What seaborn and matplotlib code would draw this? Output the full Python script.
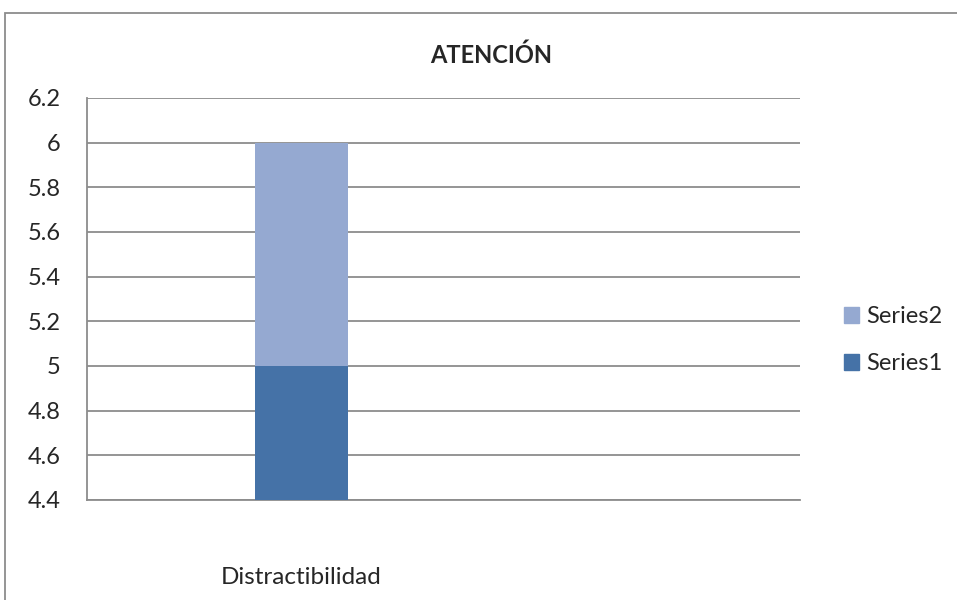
import matplotlib
matplotlib.use("Agg")
import matplotlib.pyplot as plt
import matplotlib.patches as mpatches
import seaborn as sns
import pandas as pd

# data
categories = ["Distractibilidad"]
series1 = [5]
series2 = [1]
ticks = [4.4, 4.6, 4.8, 5.0, 5.2, 5.4, 5.6, 5.8, 6.0, 6.2]
tick_labels = ["4.4", "4.6", "4.8", "5", "5.2", "5.4", "5.6", "5.8", "6", "6.2"]

c1 = "#4572A7"
c2 = "#95A9D1"
grid_c = "#8C8C8C"

sns.set_style("white")
plt.rcParams['font.family'] = ['Lato', 'DejaVu Sans']

df = pd.DataFrame({"cat": categories, "s1": series1, "s2": series2})
df["total"] = df["s1"] + df["s2"]

fig = plt.figure(figsize=(9.57, 6), dpi=100)
ax = fig.add_axes([87 / 957, 100 / 600, 713 / 957, 402 / 600])

# stacked: draw total first, then the bottom series over it
sns.barplot(data=df, x="cat", y="total", color=c2, width=0.5, saturation=1, ax=ax, zorder=3)
sns.barplot(data=df, x="cat", y="s1", color=c1, width=0.5, saturation=1, ax=ax, zorder=4)
for p in ax.patches:
    p.set_edgecolor("none")

ax.set_ylim(4.4, 6.2)
ax.set_xlim(-1.15, 2.68)
ax.set_yticks(ticks)
ax.set_yticklabels(tick_labels, fontsize=17)
ax.tick_params(axis="x", labelsize=17.5, length=0, pad=48)
ax.tick_params(axis="y", length=0, pad=19)
ax.set_xlabel("")
ax.set_ylabel("")
ax.yaxis.grid(True, color=grid_c, linewidth=1.3, zorder=0)
ax.set_axisbelow(True)
for s in ["top", "right"]:
    ax.spines[s].set_visible(False)
for s in ["left", "bottom"]:
    ax.spines[s].set_color(grid_c)
    ax.spines[s].set_linewidth(1.3)

fig.text(491 / 957, 1 - 55 / 600, "ATENCIÓN", ha="center", va="center",
         fontsize=17, fontweight="bold")

handles = [mpatches.Patch(color=c2, label="Series2"),
           mpatches.Patch(color=c1, label="Series1")]
fig.legend(handles=handles, loc="center left", bbox_to_anchor=(832 / 957, 1 - 340 / 600),
           frameon=False, fontsize=17, handlelength=0.66, handleheight=0.66,
           handletextpad=0.3, labelspacing=1.1, borderpad=0)

# outer chart border
fig.patches.append(mpatches.Rectangle((5 / 957, -0.01), 1.0, 1 - 13 / 600 + 0.01,
                                      transform=fig.transFigure, fill=False,
                                      edgecolor="#8C8C8C", linewidth=1.3))

fig.savefig("out.png", dpi=100)
